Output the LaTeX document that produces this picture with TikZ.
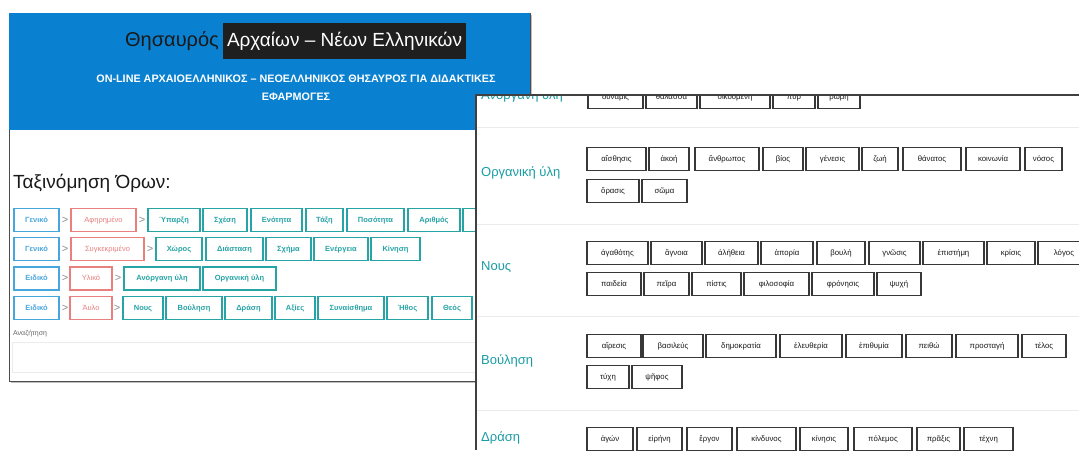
\documentclass[tikz,border=0pt]{standalone}
\usepackage{fontspec}
\setmainfont{Liberation Sans}
\usepackage{tikz}
\definecolor{headblue}{RGB}{10,128,208}
\definecolor{crumbblue}{RGB}{72,166,222}
\definecolor{crumbred}{RGB}{232,128,126}
\definecolor{crumbteal}{RGB}{38,164,166}
\definecolor{labelteal}{RGB}{26,156,164}
\tikzset{
  crumb/.style={draw, line width=1.2pt, fill=white, minimum height=23pt, inner sep=0pt,
    text height=5.5pt, text depth=1.5pt, font=\fontsize{7.5}{9}\selectfont\bfseries},
  crumbgen/.style={crumb, draw=crumbblue, text=crumbblue},
  crumbmid/.style={crumb, draw=crumbred, text=crumbred, font=\fontsize{7.5}{9}\selectfont},
  crumbleaf/.style={crumb, draw=crumbteal, text=crumbteal},
  chev/.style={text=black!45, font=\fontsize{11}{12}\selectfont, inner sep=0pt},
  term/.style={draw=black!78, line width=1.3pt, fill=white, minimum height=23pt, inner sep=0pt,
    text height=5.5pt, text depth=1.5pt, font=\fontsize{7.8}{9}\selectfont, text=black!90},
  seclabel/.style={anchor=west, text=labelteal, font=\fontsize{13}{15}\selectfont, inner sep=0pt},
}
\begin{document}
\begin{tikzpicture}[x=1pt,y=-1pt]
\useasboundingbox (0,0) rectangle (1079,450);
% left page
\fill[black!25] (11,15) rectangle (532,383);
\draw[black!70, line width=1pt, fill=white] (9,13) rectangle (530,381);
\fill[headblue] (9,13) rectangle (530,130);
\node[font=\fontsize{20}{22}\selectfont, text=black!90] (thes) at (172,41) {Θησαυρός};
\node[fill=black!88, text=white, minimum width=243pt, minimum height=36pt, inner sep=0pt,
  font=\fontsize{19}{22}\selectfont] (titlebox) at (344.5,41) {Αρχαίων – Νέων Ελληνικών};
\node[text=white, font=\fontsize{10.8}{12}\selectfont\bfseries] (sub1) at (296,79)
  {ON-LINE ΑΡΧΑΙΟΕΛΛΗΝΙΚΟΣ – ΝΕΟΕΛΛΗΝΙΚΟΣ ΘΗΣΑΥΡΟΣ ΓΙΑ ΔΙΔΑΚΤΙΚΕΣ};
\node[text=white, font=\fontsize{10.8}{12}\selectfont\bfseries] (sub2) at (296,97) {ΕΦΑΡΜΟΓΕΣ};
\node[anchor=west, inner sep=0pt, font=\fontsize{19}{22}\selectfont, text=black!90] (taxis) at (13,183) {Ταξινόμηση Όρων:};

% breadcrumbs
\node[crumbgen, minimum width=45pt] (gen1) at (36.5,220) {Γενικό};
\node[chev] (chv1a) at (65,220) {>};
\node[crumbmid, minimum width=65pt] (mid1) at (103.5,220) {Αφηρημένο};
\node[chev] (chv1b) at (142,220) {>};
\foreach \l/\r/\t [count=\k] in {148/200/Ύπαρξη, 203/247/Σχέση, 251/302/Ενότητα, 306/343/Τάξη,
  347/404/Ποσότητα, 408/460/Αριθμός, 463/510/{}}
  \node[crumbleaf, minimum width={(\r-\l)*1pt}] (leafa\k) at ({(\l+\r)/2},220) {\t};

\node[crumbgen, minimum width=45pt] (gen2) at (36.5,249) {Γενικό};
\node[chev] (chv2a) at (65,249) {>};
\node[crumbmid, minimum width=73pt] (mid2) at (107.5,249) {Συγκεκριμένο};
\node[chev] (chv2b) at (150,249) {>};
\foreach \l/\r/\t [count=\k] in {156/202/Χώρος, 206/263/Διάσταση, 266/311/Σχήμα,
  314/368/Ενέργεια, 371/420/Κίνηση}
  \node[crumbleaf, minimum width={(\r-\l)*1pt}] (leafb\k) at ({(\l+\r)/2},249) {\t};

\node[crumbgen, minimum width=45pt] (gen3) at (36.5,278.5) {Ειδικό};
\node[chev] (chv3a) at (65,278.5) {>};
\node[crumbmid, minimum width=42pt] (mid3) at (91,278.5) {Υλικό};
\node[chev] (chv3b) at (118,278.5) {>};
\foreach \l/\r/\t [count=\k] in {124/200/Ανόργανη ύλη, 203/276/Οργανική ύλη}
  \node[crumbleaf, minimum width={(\r-\l)*1pt}] (leafc\k) at ({(\l+\r)/2},278.5) {\t};

\node[crumbgen, minimum width=45pt] (gen4) at (36.5,308) {Ειδικό};
\node[chev] (chv4a) at (65,308) {>};
\node[crumbmid, minimum width=42pt] (mid4) at (91,308) {Άυλο};
\node[chev] (chv4b) at (117,308) {>};
\foreach \l/\r/\t [count=\k] in {123/163/Νους, 166/222/Βούληση, 225/272/Δράση, 275/315/Αξίες,
  318/384/Συναίσθημα, 387/428/Ήθος, 432/472/Θεός}
  \node[crumbleaf, minimum width={(\r-\l)*1pt}] (leafd\k) at ({(\l+\r)/2},308) {\t};

\node[anchor=west, inner sep=0pt, font=\fontsize{7}{8}\selectfont, text=black!60] (search) at (13,334) {Αναζήτηση};
\draw[black!8] (12,342) rectangle (527,372);

% right page
\fill[white] (476,95) rectangle (1079,450);
\begin{scope}
\clip (476,95) rectangle (1079,450);
\foreach \y in {127,224,316,410}
  \draw[black!8, line width=1pt] (477,\y) -- (1079,\y);
\node[seclabel] (anorg) at (481,96) {Ανόργανη ύλη};
\node[seclabel] (org) at (481,173) {Οργανική ύλη};
\node[seclabel] (nous) at (481,267) {Νους};
\node[seclabel] (boul) at (481,361) {Βούληση};
\node[seclabel] (dras) at (481,438) {Δράση};
\foreach \l/\r/\t [count=\k] in {588/643/δύναμις, 646/697/θάλασσα, 700/770/οἰκουμένη,
  773/815/πῦρ, 818/860/ῥώμη}
  \node[term, minimum width={(\r-\l)*1pt}] (terma\k) at ({(\l+\r)/2},97) {\t};
\foreach \l/\r/\t [count=\k] in {587/646/αἴσθησις, 649/689/ἀκοή, 695/759/ἄνθρωπος, 763/803/βίος,
  806/859/γένεσις, 862/898/ζωή, 903/961/θάνατος, 966/1020/κοινωνία, 1025/1062/νόσος,
  587/639/ὅρασις, 642/687/σῶμα}
  \node[term, minimum width={(\r-\l)*1pt}] (termb\k) at ({(\l+\r)/2},{\k<10 ? 159 : 191}) {\t};
\foreach \l/\r/\t [count=\k] in {587/648/ἀγαθότης, 651/702/ἄγνοια, 705/758/ἀλήθεια, 761/813/ἀπορία,
  817/865/βουλή, 869/920/γνῶσις, 923/984/ἐπιστήμη, 987/1035/κρίσις, 1038/1090/λόγος,
  587/641/παιδεία, 644/689/πεῖρα, 692/741/πίστις, 744/809/φιλοσοφία, 812/874/φρόνησις, 877/921/ψυχή}
  \node[term, minimum width={(\r-\l)*1pt}] (termc\k) at ({(\l+\r)/2},{\k<10 ? 253 : 284}) {\t};
\foreach \l/\r/\t [count=\k] in {587/641/αἵρεσις, 643/703/βασιλεύς, 706/776/δημοκρατία,
  780/842/ἐλευθερία, 846/902/ἐπιθυμία, 906/952/πειθώ, 956/1018/προσταγή, 1022/1066/τέλος,
  587/629/τύχη, 632/682/ψῆφος}
  \node[term, minimum width={(\r-\l)*1pt}] (termd\k) at ({(\l+\r)/2},{\k<9 ? 346 : 377}) {\t};
\foreach \l/\r/\t [count=\k] in {587/633/ἀγών, 637/682/εἰρήνη, 687/732/ἔργον, 737/796/κίνδυνος,
  800/848/κίνησις, 854/912/πόλεμος, 917/960/πρᾶξις, 964/1013/τέχνη}
  \node[term, minimum width={(\r-\l)*1pt}] (terme\k) at ({(\l+\r)/2},439) {\t};
\end{scope}
\draw[black!75, line width=1.6pt] (1079,95) -- (476,95) -- (476,450);
\end{tikzpicture}
\end{document}
